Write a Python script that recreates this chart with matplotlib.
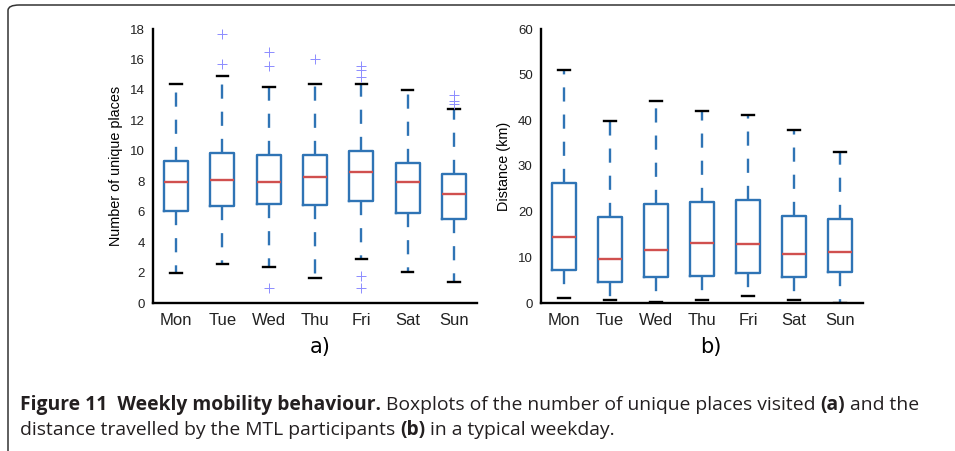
import matplotlib
matplotlib.use("Agg")
import matplotlib.pyplot as plt
from matplotlib.patches import FancyBboxPatch

days = ["Mon", "Tue", "Wed", "Thu", "Fri", "Sat", "Sun"]

# a) number of unique places
places_low = [1.95, 2.59, 2.35, 1.64, 2.87, 2.02, 1.36]
places_q1 = [6.03, 6.34, 6.49, 6.43, 6.73, 5.94, 5.53]
places_med = [7.92, 8.11, 7.92, 8.31, 8.62, 7.92, 7.13]
places_q3 = [9.36, 9.85, 9.74, 9.69, 10.0, 9.21, 8.46]
places_high = [14.36, 14.91, 14.17, 14.36, 14.41, 13.99, 12.72]
places_fliers = [[], [17.65, 15.72], [16.47, 15.59, 0.99], [16.03],
                 [15.57, 15.31, 14.87, 1.75, 0.99], [], [13.66, 13.27, 13.05]]

# b) distance (km)
dist_low = [1.1, 0.58, 0.22, 0.73, 1.6, 0.73, 0.07]
dist_q1 = [7.16, 4.53, 5.63, 5.92, 6.5, 5.7, 6.73]
dist_med = [14.5, 9.65, 11.55, 13.1, 12.87, 10.8, 11.26]
dist_q3 = [26.2, 18.9, 21.7, 22.2, 22.5, 19.1, 18.3]
dist_high = [51.0, 39.9, 44.2, 42.0, 41.1, 37.8, 33.0]

BLUE = "#2f74b5"
RED = "#d0504f"


def make_stats(low, q1, med, q3, high, fliers=None):
    stats = []
    for k in range(len(low)):
        stats.append(dict(whislo=low[k], q1=q1[k], med=med[k], q3=q3[k],
                          whishi=high[k],
                          fliers=fliers[k] if fliers else [], label=days[k]))
    return stats


def draw(ax, stats, ymax, step, ylabel):
    ax.bxp(stats, positions=range(1, 8), widths=0.52, capwidths=0.25,
           showfliers=True,
           boxprops=dict(color=BLUE, linewidth=1.7),
           whiskerprops=dict(color=BLUE, linewidth=1.7, linestyle=(0, (6, 5.5))),
           capprops=dict(color="black", linewidth=1.7),
           medianprops=dict(color=RED, linewidth=1.7),
           flierprops=dict(marker="+", markeredgecolor="#8c8cff",
                           markersize=7, markeredgewidth=0.7, linestyle="none"))
    ax.set_xlim(0.5, 7.5)
    ax.set_ylim(0, ymax)
    ax.set_yticks(range(0, ymax + 1, step))
    ax.set_xticklabels(days, fontsize=12, family="Liberation Sans")
    for t in ax.get_yticklabels():
        t.set_fontsize(9.5)
        t.set_family("Liberation Sans")
    ax.tick_params(length=0, pad=6, colors="#222222")
    ax.tick_params(axis="x", pad=7)
    for s in ["top", "right"]:
        ax.spines[s].set_visible(False)
    for s in ["left", "bottom"]:
        ax.spines[s].set_linewidth(1.7)
    ax.set_ylabel(ylabel, fontsize=10.4, family="Liberation Sans", labelpad=5)


fig = plt.figure(figsize=(9.55, 4.51), dpi=100)
W, H = 955.0, 451.0

ax1 = fig.add_axes([153 / W, 1 - 303 / H, 324 / W, 274 / H])
ax2 = fig.add_axes([541 / W, 1 - 303 / H, 322 / W, 274 / H])

draw(ax1, make_stats(places_low, places_q1, places_med, places_q3, places_high,
                     places_fliers), 18, 2, "Number of unique places")
draw(ax2, make_stats(dist_low, dist_q1, dist_med, dist_q3, dist_high),
     60, 10, "Distance (km)")

fig.text(320 / W, 1 - 347 / H, "a)", fontsize=15, ha="center", va="center")
fig.text(711 / W, 1 - 347 / H, "b)", fontsize=15, ha="center", va="center")

# frame round the figure
frame = FancyBboxPatch((8 / W, -20 / H), 1100 / W, (451 - 5 + 20) / H,
                       boxstyle="round,pad=0,rounding_size=0.012",
                       transform=fig.transFigure, fill=False,
                       edgecolor="#333333", linewidth=1.1, clip_on=False)
fig.patches.append(frame)

# caption
cap_font = ["Open Sans", "DejaVu Sans"]
lines = [
    [("Figure 11  Weekly mobility behaviour.", "bold"),
     (" Boxplots of the number of unique places visited ", "normal"),
     ("(a)", "bold"), (" and the", "normal")],
    [("distance travelled by the MTL participants ", "normal"),
     ("(b)", "bold"), (" in a typical weekday.", "normal")],
]
baselines = [410, 435]
renderer = fig.canvas.get_renderer()
for parts, yb in zip(lines, baselines):
    x = 20.0
    for txt, wt in parts:
        t = fig.text(x / W, 1 - yb / H, txt, fontsize=13.9, fontweight=wt,
                     family=cap_font, color="#231f20", va="baseline")
        bb = t.get_window_extent(renderer)
        x += bb.width

fig.savefig("out.png", dpi=100)
